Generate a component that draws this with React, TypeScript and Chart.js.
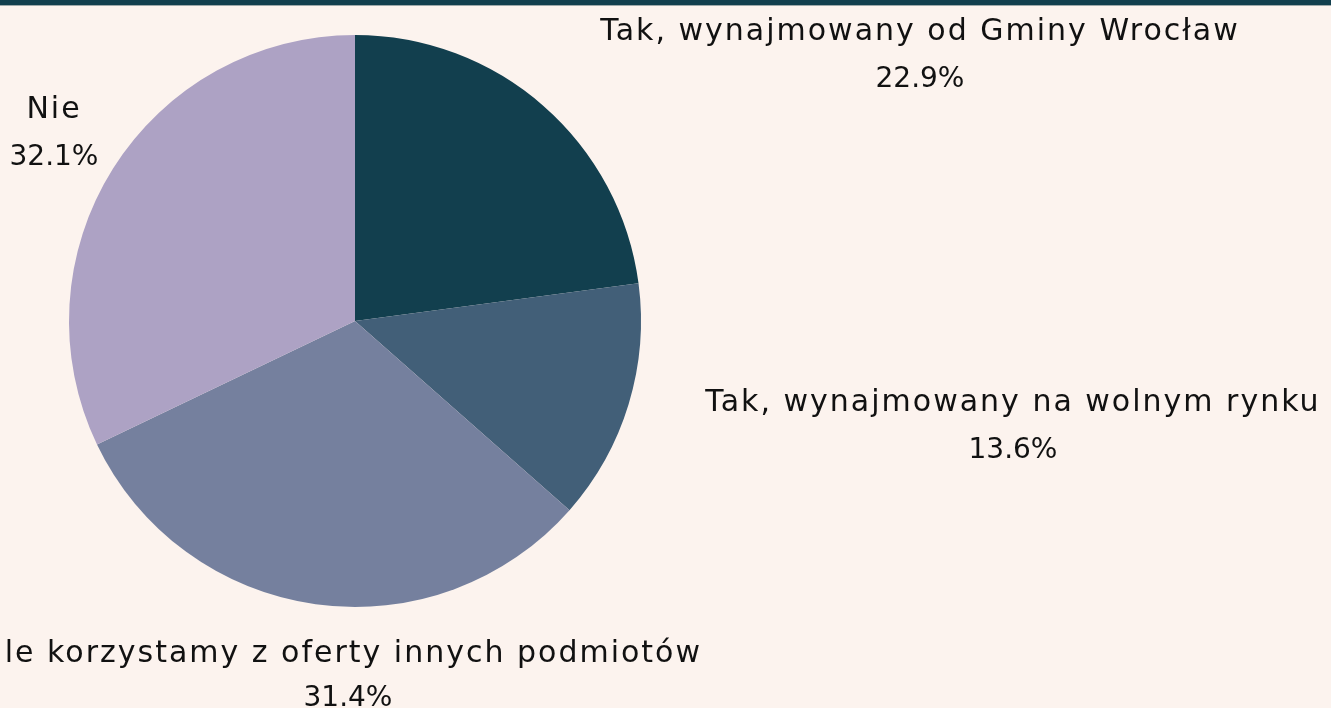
import React, { useEffect, useRef } from "react";
import { Chart, registerables } from "chart.js";

Chart.register(...registerables);

const categories = [
  "Tak, wynajmowany od Gminy Wrocław",
  "Tak, wynajmowany na wolnym rynku",
  "Nie, ale korzystamy z oferty innych podmiotów",
  "Nie",
];
const shares = [22.9, 13.6, 31.4, 32.1];
const sliceColors = ["#123f4e", "#425f78", "#75809e", "#ada2c4"];
const percentLabels = ["22.9%", "13.6%", "31.4%", "32.1%"];

const BG = "#fcf3ee";
const FONT_FAMILY = "'DejaVu Sans', 'Noto Sans', sans-serif";

// label anchors relative to the pie centre (text layout only)
const labelOffsets: { dx: number; dy: number; align: CanvasTextAlign; pdx?: number; gap?: number }[] = [
  { dx: 565, dy: -281, align: "center" },
  { dx: 658, dy: 90, align: "center" },
  { dx: 347, dy: 341, align: "right", pdx: -7, gap: 44 },
  { dx: -301, dy: -203, align: "center" },
];

const pageDecor = {
  id: "pageDecor",
  beforeDraw(chart: Chart) {
    const { ctx, width, height } = chart;
    ctx.save();
    ctx.fillStyle = BG;
    ctx.fillRect(0, 0, width, height);
    ctx.fillStyle = "#123f4e";
    ctx.fillRect(0, 0, width, 5);
    ctx.fillStyle = "#9fa9aa";
    ctx.fillRect(0, 5, width, 1);
    ctx.restore();
  },
};

const outsideLabels = {
  id: "outsideLabels",
  afterDraw(chart: Chart) {
    const { ctx } = chart;
    const meta = chart.getDatasetMeta(0);
    const arc: any = meta.data[0];
    if (!arc) return;
    const cx = arc.x;
    const cy = arc.y;
    ctx.save();
    ctx.fillStyle = "#111111";
    ctx.textBaseline = "alphabetic";
    const labels = chart.data.labels as string[];
    labels.forEach((lab, i) => {
      const o = labelOffsets[i];
      ctx.font = `30px ${FONT_FAMILY}`;
      (ctx as any).letterSpacing = "2px";
      ctx.textAlign = o.align;
      ctx.fillText(lab, cx + o.dx, cy + o.dy);
      ctx.font = `28px ${FONT_FAMILY}`;
      (ctx as any).letterSpacing = "0px";
      ctx.textAlign = "center";
      const px = o.pdx !== undefined ? o.pdx : o.dx;
      ctx.fillText(percentLabels[i], cx + px, cy + o.dy + (o.gap ?? 47));
    });
    ctx.restore();
  },
};

export default function App() {
  const canvasRef = useRef<HTMLCanvasElement | null>(null);

  useEffect(() => {
    document.body.style.margin = "0";
    document.body.style.background = BG;
    const canvas = canvasRef.current;
    if (!canvas) return;
    const chart = new Chart(canvas, {
      type: "pie",
      data: {
        labels: categories,
        datasets: [
          {
            data: shares,
            backgroundColor: sliceColors,
            borderWidth: 0,
          },
        ],
      },
      options: {
        animation: false,
        responsive: false,
        maintainAspectRatio: false,
        layout: { padding: { top: 35, bottom: 101, left: 69, right: 690 } },
        plugins: {
          legend: { display: false },
          tooltip: { enabled: false },
          title: { display: false },
        },
      },
      plugins: [pageDecor, outsideLabels],
    });
    return () => chart.destroy();
  }, []);

  return (
    <div style={{ width: 1331, height: 708, position: "relative", background: BG }}>
      <canvas ref={canvasRef} width={1331} height={708} style={{ display: "block" }} />
    </div>
  );
}
